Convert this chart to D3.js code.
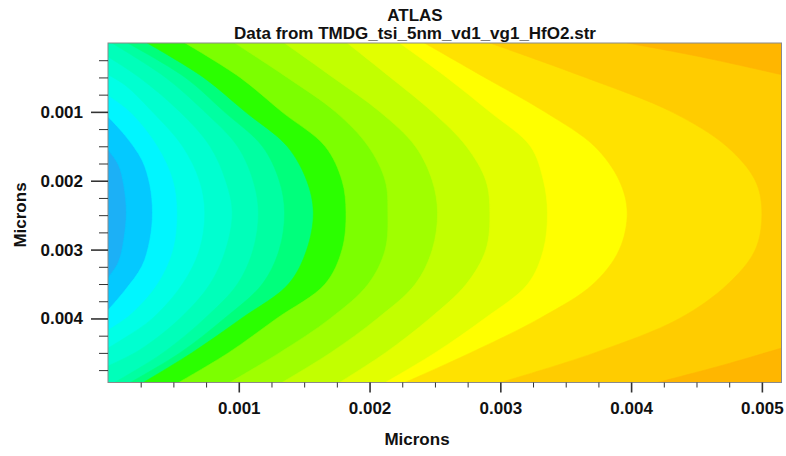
<!DOCTYPE html>
<html>
<head>
<meta charset="utf-8">
<script src="https://cdn.jsdelivr.net/npm/d3@7"></script>
<style>
  html, body { margin: 0; padding: 0; background: #ffffff; }
  svg { display: block; font-family: "Liberation Sans", Arial, sans-serif; }
</style>
</head>
<body>
<svg id="chart" width="786" height="456"></svg>
<script>
// ---- Axis extents and ticks (microns) ----
const xDomain = [0, 0.00515];
const yDomain = [0, 0.00493];
const xMajorTicks = [0.001, 0.002, 0.003, 0.004, 0.005];
const yMajorTicks = [0.001, 0.002, 0.003, 0.004];
const minorStep = 0.00025;

const titleLines = ["ATLAS", "Data from TMDG_tsi_5nm_vd1_vg1_HfO2.str"];
const xLabel = "Microns";
const yLabel = "Microns";

// ---- Contour lines [x, y] in microns, lowest level first ----
// Each line is traced from its upper end to its lower end.
const iso01 = [[0,0.00155],[0.00008,0.00177],[0.00012,0.00206],[0.00014,0.00246],[0.00012,0.00286],[0.00008,0.00318],[0,0.00341]];
const iso02 = [[0,0.00107],[0.00013,0.00134],[0.00026,0.0017],[0.00032,0.00206],[0.00034,0.00246],[0.00032,0.00286],[0.00026,0.00324],[0.00013,0.00359],[0,0.00388]];
const iso03 = [[0,0.00076],[0.00017,0.001],[0.00038,0.0015],[0.0005,0.002],[0.00053,0.00246],[0.0005,0.003],[0.00038,0.0035],[0.00017,0.00395],[0,0.00417]];
const iso04 = [[0,0.00046],[0.00013,0.00061],[0.00034,0.001],[0.00057,0.0015],[0.0007,0.002],[0.00074,0.00246],[0.0007,0.003],[0.00057,0.0035],[0.00034,0.004],[0.00013,0.00428],[0,0.00443]];
const iso05 = [[0,0.0002],[0.00024,0.0005],[0.00055,0.001],[0.00078,0.0015],[0.0009,0.002],[0.00095,0.00246],[0.0009,0.003],[0.00078,0.0035],[0.00055,0.004],[0.00024,0.00446],[0,0.00469]];
const iso06 = [[0.00003,0],[0.00044,0.0005],[0.00074,0.001],[0.00099,0.0015],[0.00111,0.002],[0.00115,0.00246],[0.00111,0.003],[0.00099,0.0035],[0.00074,0.004],[0.00042,0.0045],[0.00005,0.00493]];
const iso07 = [[0.00015,0],[0.00059,0.0005],[0.00089,0.001],[0.00118,0.0015],[0.00131,0.002],[0.00135,0.00246],[0.00131,0.003],[0.00118,0.0035],[0.00089,0.004],[0.00055,0.0045],[0.00017,0.00493]];
const iso08 = [[0.0003,0],[0.00073,0.0005],[0.00105,0.001],[0.00137,0.0015],[0.00152,0.002],[0.00157,0.00246],[0.00152,0.003],[0.00138,0.0035],[0.00102,0.004],[0.00064,0.0045],[0.00027,0.00493]];
const iso09 = [[0.00059,0],[0.00101,0.0005],[0.00133,0.001],[0.00166,0.0015],[0.00179,0.002],[0.00182,0.00246],[0.00179,0.003],[0.00166,0.0035],[0.00129,0.004],[0.00092,0.0045],[0.00054,0.00493]];
const iso10 = [[0.00097,0],[0.00137,0.0005],[0.00174,0.001],[0.00199,0.0015],[0.00212,0.002],[0.00214,0.00246],[0.00212,0.003],[0.00199,0.0035],[0.0017,0.004],[0.00131,0.0045],[0.00093,0.00493]];
const iso11 = [[0.00135,0],[0.00172,0.0005],[0.00208,0.001],[0.00235,0.0015],[0.00248,0.002],[0.00252,0.00246],[0.00248,0.003],[0.00235,0.0035],[0.00206,0.004],[0.0017,0.0045],[0.00133,0.00493]];
const iso12 = [[0.00183,0],[0.00216,0.0005],[0.00248,0.001],[0.00274,0.0015],[0.00289,0.002],[0.00292,0.00246],[0.00289,0.003],[0.00274,0.0035],[0.00246,0.004],[0.00212,0.0045],[0.00177,0.00493]];
const iso13 = [[0.00223,0],[0.00259,0.0005],[0.00292,0.001],[0.00323,0.0015],[0.00333,0.002],[0.00336,0.00246],[0.00333,0.003],[0.00321,0.0035],[0.00288,0.004],[0.0025,0.0045],[0.00212,0.00493]];
const iso14 = [[0.00242,0],[0.00288,0.0005],[0.00334,0.001],[0.00372,0.0015],[0.00391,0.002],[0.00397,0.00246],[0.00391,0.003],[0.00371,0.0035],[0.0033,0.004],[0.00277,0.0045],[0.00227,0.00493]];
const iso15 = [[0.00292,0],[0.00365,0.0005],[0.00431,0.001],[0.00473,0.0015],[0.00495,0.002],[0.005,0.00246],[0.00495,0.003],[0.00474,0.0035],[0.00437,0.004],[0.00372,0.0045],[0.003,0.00493]];
const iso16top = [[0.00397,0],[0.00453,0.0002],[0.00515,0.00046]];
const iso16bottom = [[0.00515,0.00443],[0.00468,0.00469],[0.0042,0.00493]];

const contourLevels = [
  [iso01], [iso02], [iso03], [iso04], [iso05], [iso06], [iso07], [iso08],
  [iso09], [iso10], [iso11], [iso12], [iso13], [iso14], [iso15], [iso16top, iso16bottom]
];

// Fill colour of each band, from the lowest band to the highest
const bandColors = [
  "#1cb0f6", "#04c9ff", "#00f6ff", "#00ffe6", "#00ffd0", "#00ffba",
  "#00ffa2", "#00ff7c", "#2bff00", "#7cff00", "#a0ff00", "#c2ff00",
  "#e2ff00", "#ffff00", "#ffe200", "#ffcc00", "#ffb600"
];

// ---- Layout ----
const svg = d3.select("#chart");
const x = d3.scaleLinear().domain(xDomain).range([108, 781.5]);
const y = d3.scaleLinear().domain(yDomain).range([43, 382.5]);
const [X0, X1] = x.range();
const [Y0, Y1] = y.range();
const W = X1 - X0, H = Y1 - Y0, P = 2 * (W + H);

svg.append("defs").append("clipPath").attr("id", "plotClip")
  .append("rect").attr("x", X0).attr("y", Y0).attr("width", W).attr("height", H);

// Position along the plot border: down the left side, right along the
// bottom, up the right side, then left along the top.
function perimeterPos([px, py]) {
  const d = [Math.abs(px - X0), Math.abs(py - Y1), Math.abs(px - X1), Math.abs(py - Y0)];
  const e = d.indexOf(Math.min(...d));
  if (e === 0) return py - Y0;
  if (e === 1) return H + (px - X0);
  if (e === 2) return H + W + (Y1 - py);
  return 2 * H + W + (X1 - px);
}
const corners = [[H, [X0, Y1]], [H + W, [X1, Y1]], [2 * H + W, [X1, Y0]], [P, [X0, Y0]]];
function borderWalk(fromPt, toPt) {
  const t0 = perimeterPos(fromPt);
  let t1 = perimeterPos(toPt);
  if (t1 <= t0) t1 += P;
  const pts = [];
  for (let k = 0; k < 2; k++) {
    for (const [t, c] of corners) {
      const tt = t + k * P;
      if (tt > t0 && tt < t1) pts.push(c);
    }
  }
  return pts;
}

const curve = d3.line()
  .x(d => x(d[0]))
  .y(d => y(d[1]))
  .curve(d3.curveCatmullRom.alpha(0.5));

// Region on the high side of one contour piece
function bandPath(piece) {
  const first = [x(piece[0][0]), y(piece[0][1])];
  const last = [x(piece[piece.length - 1][0]), y(piece[piece.length - 1][1])];
  const walk = borderWalk(last, first);
  return curve(piece) + walk.map(c => `L${c[0]},${c[1]}`).join("") + "Z";
}

const field = svg.append("g").attr("clip-path", "url(#plotClip)");
field.append("rect")
  .attr("x", X0).attr("y", Y0).attr("width", W).attr("height", H)
  .attr("fill", bandColors[0]);

contourLevels.forEach((pieces, i) => {
  pieces.forEach(piece => {
    field.append("path")
      .attr("d", bandPath(piece))
      .attr("fill", bandColors[i + 1])
      .attr("stroke", bandColors[i + 1])
      .attr("stroke-width", 0.6);
  });
});

// Plot frame
svg.append("rect")
  .attr("x", X0).attr("y", Y0).attr("width", W).attr("height", H)
  .attr("fill", "none").attr("stroke", "#8a8a8a").attr("stroke-width", 1);

// ---- Axes ----
const fmt = d3.format(".3f");
const xMinor = d3.range(minorStep, xDomain[1] + 1e-9, minorStep).filter(v => !xMajorTicks.some(m => Math.abs(m - v) < 1e-9));
const yMinor = d3.range(minorStep, yDomain[1], minorStep).filter(v => !yMajorTicks.some(m => Math.abs(m - v) < 1e-9));

function styleAxis(g, width) {
  g.select(".domain").remove();
  g.selectAll(".tick line").attr("stroke", "#333").attr("stroke-width", width);
  g.selectAll(".tick text")
    .attr("fill", "#111")
    .style("font-size", "17px")
    .style("font-weight", "bold");
}

svg.append("g").attr("transform", `translate(0,${Y1})`)
  .call(d3.axisBottom(x).tickValues(xMinor).tickSize(5).tickSizeOuter(0).tickFormat(""))
  .call(g => styleAxis(g, 1));
svg.append("g").attr("transform", `translate(0,${Y1})`)
  .call(d3.axisBottom(x).tickValues(xMajorTicks).tickSize(10).tickSizeOuter(0).tickPadding(9).tickFormat(fmt))
  .call(g => styleAxis(g, 1.6));

svg.append("g").attr("transform", `translate(${X0},0)`)
  .call(d3.axisLeft(y).tickValues(yMinor).tickSize(9).tickSizeOuter(0).tickFormat(""))
  .call(g => styleAxis(g, 1));
svg.append("g").attr("transform", `translate(${X0},0)`)
  .call(d3.axisLeft(y).tickValues(yMajorTicks).tickSize(17).tickSizeOuter(0).tickPadding(8).tickFormat(fmt))
  .call(g => styleAxis(g, 1.6));

// ---- Titles and axis labels ----
const textStyle = sel => sel
  .attr("fill", "#111")
  .style("font-weight", "bold")
  .style("font-size", "17px");

svg.append("text").attr("x", 415).attr("y", 21).attr("text-anchor", "middle")
  .text(titleLines[0]).call(textStyle);
svg.append("text").attr("x", 415).attr("y", 39).attr("text-anchor", "middle")
  .text(titleLines[1]).call(textStyle);

svg.append("text").attr("x", 417).attr("y", 445).attr("text-anchor", "middle")
  .text(xLabel).call(textStyle);

svg.append("text")
  .attr("transform", "translate(26,215) rotate(-90)")
  .attr("text-anchor", "middle")
  .text(yLabel).call(textStyle);
</script>
</body>
</html>
